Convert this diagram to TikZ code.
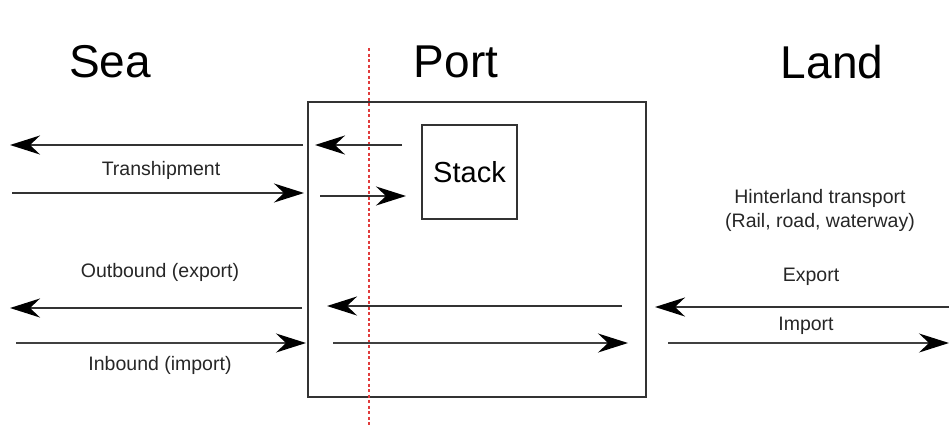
\documentclass[tikz,border=0pt]{standalone}
\usepackage{fontspec}
\setmainfont{Liberation Sans}
\usetikzlibrary{arrows.meta}
\definecolor{dashred}{RGB}{225,60,60}
\begin{document}
\begin{tikzpicture}[x=1pt,y=-1pt,
  title/.style={font=\fontsize{46}{52}\selectfont, inner sep=0pt},
  lbl/.style={font=\fontsize{19.5}{23}\selectfont, inner sep=0pt, text=black!85},
  tip/.style={-{Stealth[length=30pt,width=19pt,inset=10pt,fill=black,color=black]}},
  thick arr/.style={line width=2.2pt, draw=black!80, tip},
  thin arr/.style={line width=1.5pt, draw=black!75, tip},
  box/.style={draw=black!80, line width=1.8pt}]
\useasboundingbox (0,0) rectangle (949,426);
% titles
\node[title] (sea) at (110,62) {Sea};
\node[title] (port) at (456,62) {Port};
\node[title] (land) at (832,62) {Land};
% boxes
\node[box, minimum width=338pt, minimum height=295pt, inner sep=0pt] (portbox) at (477,249.5) {};
\node[box, minimum width=95pt, minimum height=94pt, inner sep=0pt, font=\fontsize{29}{32}\selectfont] (stack) at (469.5,172) {Stack};
% red dashed line
\coordinate (rtop) at (369,48);
\coordinate (rbot) at (369,426);
\draw[dashred, line width=1.3pt, dash pattern=on 3pt off 2.5pt] (rtop) -- (rbot);
% coordinates
\coordinate (a1s) at (303,145); \coordinate (a1e) at (10,145);
\coordinate (a2s) at (402,145); \coordinate (a2e) at (315,145);
\coordinate (a3s) at (12,193);  \coordinate (a3e) at (304,193);
\coordinate (a4s) at (320,196); \coordinate (a4e) at (406,196);
\coordinate (a5s) at (302,308); \coordinate (a5e) at (10,308);
\coordinate (a6s) at (622,306); \coordinate (a6e) at (327,306);
\coordinate (a7s) at (949,307); \coordinate (a7e) at (655,307);
\coordinate (a8s) at (16,343);  \coordinate (a8e) at (306,343);
\coordinate (a9s) at (333,343); \coordinate (a9e) at (628,343);
\coordinate (a10s) at (668,343); \coordinate (a10e) at (949,343);
\draw[thick arr] (a1s) -- (a1e);
\draw[thick arr] (a2s) -- (a2e);
\draw[thick arr] (a3s) -- (a3e);
\draw[thick arr] (a4s) -- (a4e);
\draw[thick arr] (a5s) -- (a5e);
\draw[thick arr] (a6s) -- (a6e);
\draw[thick arr] (a7s) -- (a7e);
\draw[thin arr] (a8s) -- (a8e);
\draw[thin arr] (a9s) -- (a9e);
\draw[thin arr] (a10s) -- (a10e);
% labels
\node[lbl] (tr) at (161,170) {Transhipment};
\node[lbl] (ob) at (160,272) {Outbound (export)};
\node[lbl] (ib) at (160,365) {Inbound (import)};
\node[lbl] (hl1) at (820,198) {Hinterland transport};
\node[lbl] (hl2) at (820,222) {(Rail, road, waterway)};
\node[lbl] (ex) at (811,277) {Export};
\node[lbl] (im) at (806,326) {Import};
\end{tikzpicture}
\end{document}
